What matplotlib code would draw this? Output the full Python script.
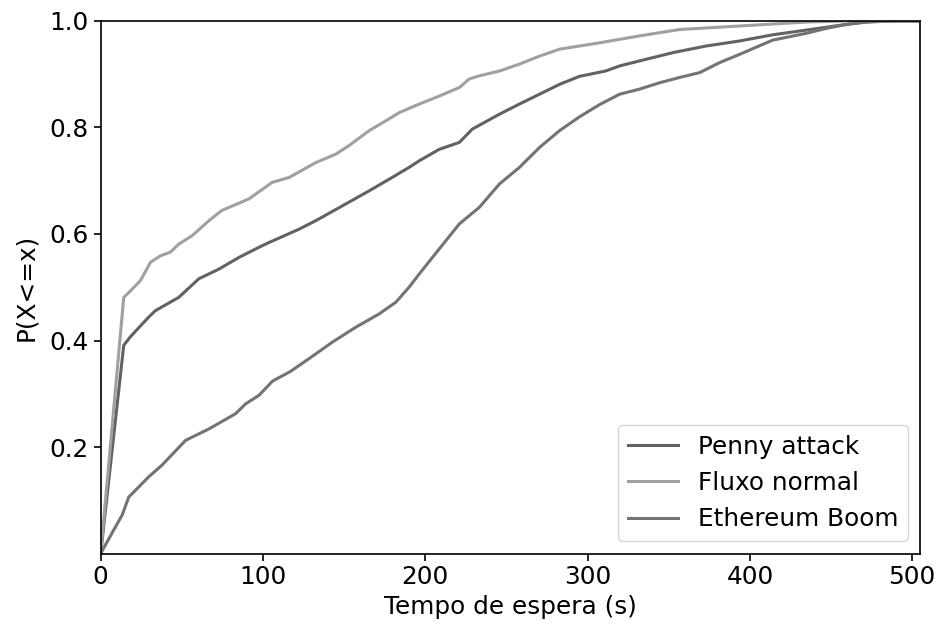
import matplotlib
matplotlib.use("Agg")
import matplotlib.pyplot as plt

# Penny attack
penny_x = [0, 14.2, 18.3, 29.6, 33.7, 48.1, 60.5, 72.8, 85.2, 97.5, 103.7, 122.2, 132.5, 149,
           165.4, 177.8, 190, 196.3, 208.6, 221, 229, 245.7, 258, 270.4, 282.7, 295, 311, 319.8,
           332, 352.7, 373, 393.8, 414, 435, 455.6, 472, 489, 505]
penny_y = [0, 0.391, 0.407, 0.444, 0.456, 0.481, 0.516, 0.534, 0.556, 0.575, 0.584, 0.609, 0.625,
           0.653, 0.681, 0.703, 0.725, 0.7375, 0.759, 0.772, 0.797, 0.825, 0.844, 0.8625, 0.881,
           0.896, 0.906, 0.9156, 0.925, 0.9406, 0.953, 0.9625, 0.974, 0.983, 0.992, 0.998, 1.0,
           1.0]

# Fluxo normal
fluxo_x = [0, 14.2, 17.3, 24.5, 30.7, 36.8, 43, 48.1, 56.4, 66.7, 74.5, 91.4, 105.7, 116,
           132.5, 144.9, 153, 165.4, 175.7, 184, 196.3, 208.6, 221, 227, 233.3, 245.7, 258,
           270.4, 282.7, 307.4, 332, 344.4, 356.8, 393.8, 435, 460, 505]
fluxo_y = [0, 0.481, 0.49, 0.5125, 0.547, 0.559, 0.566, 0.581, 0.597, 0.625, 0.644, 0.666,
           0.697, 0.706, 0.734, 0.75, 0.766, 0.794, 0.8125, 0.828, 0.844, 0.859, 0.875, 0.891,
           0.897, 0.906, 0.919, 0.934, 0.947, 0.959, 0.972, 0.978, 0.984, 0.9906, 0.998, 1.0,
           1.0]

# Ethereum Boom
eth_x = [0, 8, 13.2, 17.3, 29.6, 37.8, 52.3, 66.7, 83.1, 89.3, 97.5, 106, 117, 128.4, 142.8,
         157.2, 171.6, 181.9, 190, 196.3, 208.6, 221, 233.3, 245.7, 258, 270.4, 282.7, 295,
         307.4, 319.8, 332, 344.4, 356.8, 369, 381.5, 393.8, 414, 435, 447, 463.8, 480, 505]
eth_y = [0, 0.044, 0.072, 0.106, 0.144, 0.166, 0.2125, 0.234, 0.2625, 0.281, 0.297, 0.324,
         0.342, 0.366, 0.397, 0.425, 0.45, 0.472, 0.5, 0.525, 0.572, 0.619, 0.65, 0.694, 0.725,
         0.7625, 0.794, 0.82, 0.843, 0.8625, 0.872, 0.884, 0.894, 0.903, 0.922, 0.9375, 0.964,
         0.977, 0.986, 0.996, 1.0, 1.0]

labels = ["Penny attack", "Fluxo normal", "Ethereum Boom"]
x_ticks = [0, 100, 200, 300, 400, 500]
y_ticks = [0.2, 0.4, 0.6, 0.8, 1.0]

FS = 17.8

fig = plt.figure(figsize=(9.41, 6.28), dpi=100)
ax = fig.add_axes([0.107, 0.1186, 0.871, 0.848])

ax.plot(penny_x, penny_y, color="#626262", lw=2.2, label=labels[0])
ax.plot(fluxo_x, fluxo_y, color="#a0a0a0", lw=2.2, label=labels[1])
ax.plot(eth_x, eth_y, color="#737373", lw=2.2, label=labels[2])

ax.set_xlim(0, 505)
ax.set_ylim(0, 1.0)
ax.set_xticks(x_ticks)
ax.set_yticks(y_ticks)
ax.set_yticklabels([f"{v:.1f}" for v in y_ticks])
ax.tick_params(labelsize=FS, length=5, width=1.2)
for s in ax.spines.values():
    s.set_linewidth(1.2)
ax.set_xlabel("Tempo de espera (s)", fontsize=FS)
ax.set_ylabel("P(X<=x)", fontsize=FS, labelpad=8)
ax.legend(loc="lower right", fontsize=FS)

fig.savefig("out.png", dpi=100)
